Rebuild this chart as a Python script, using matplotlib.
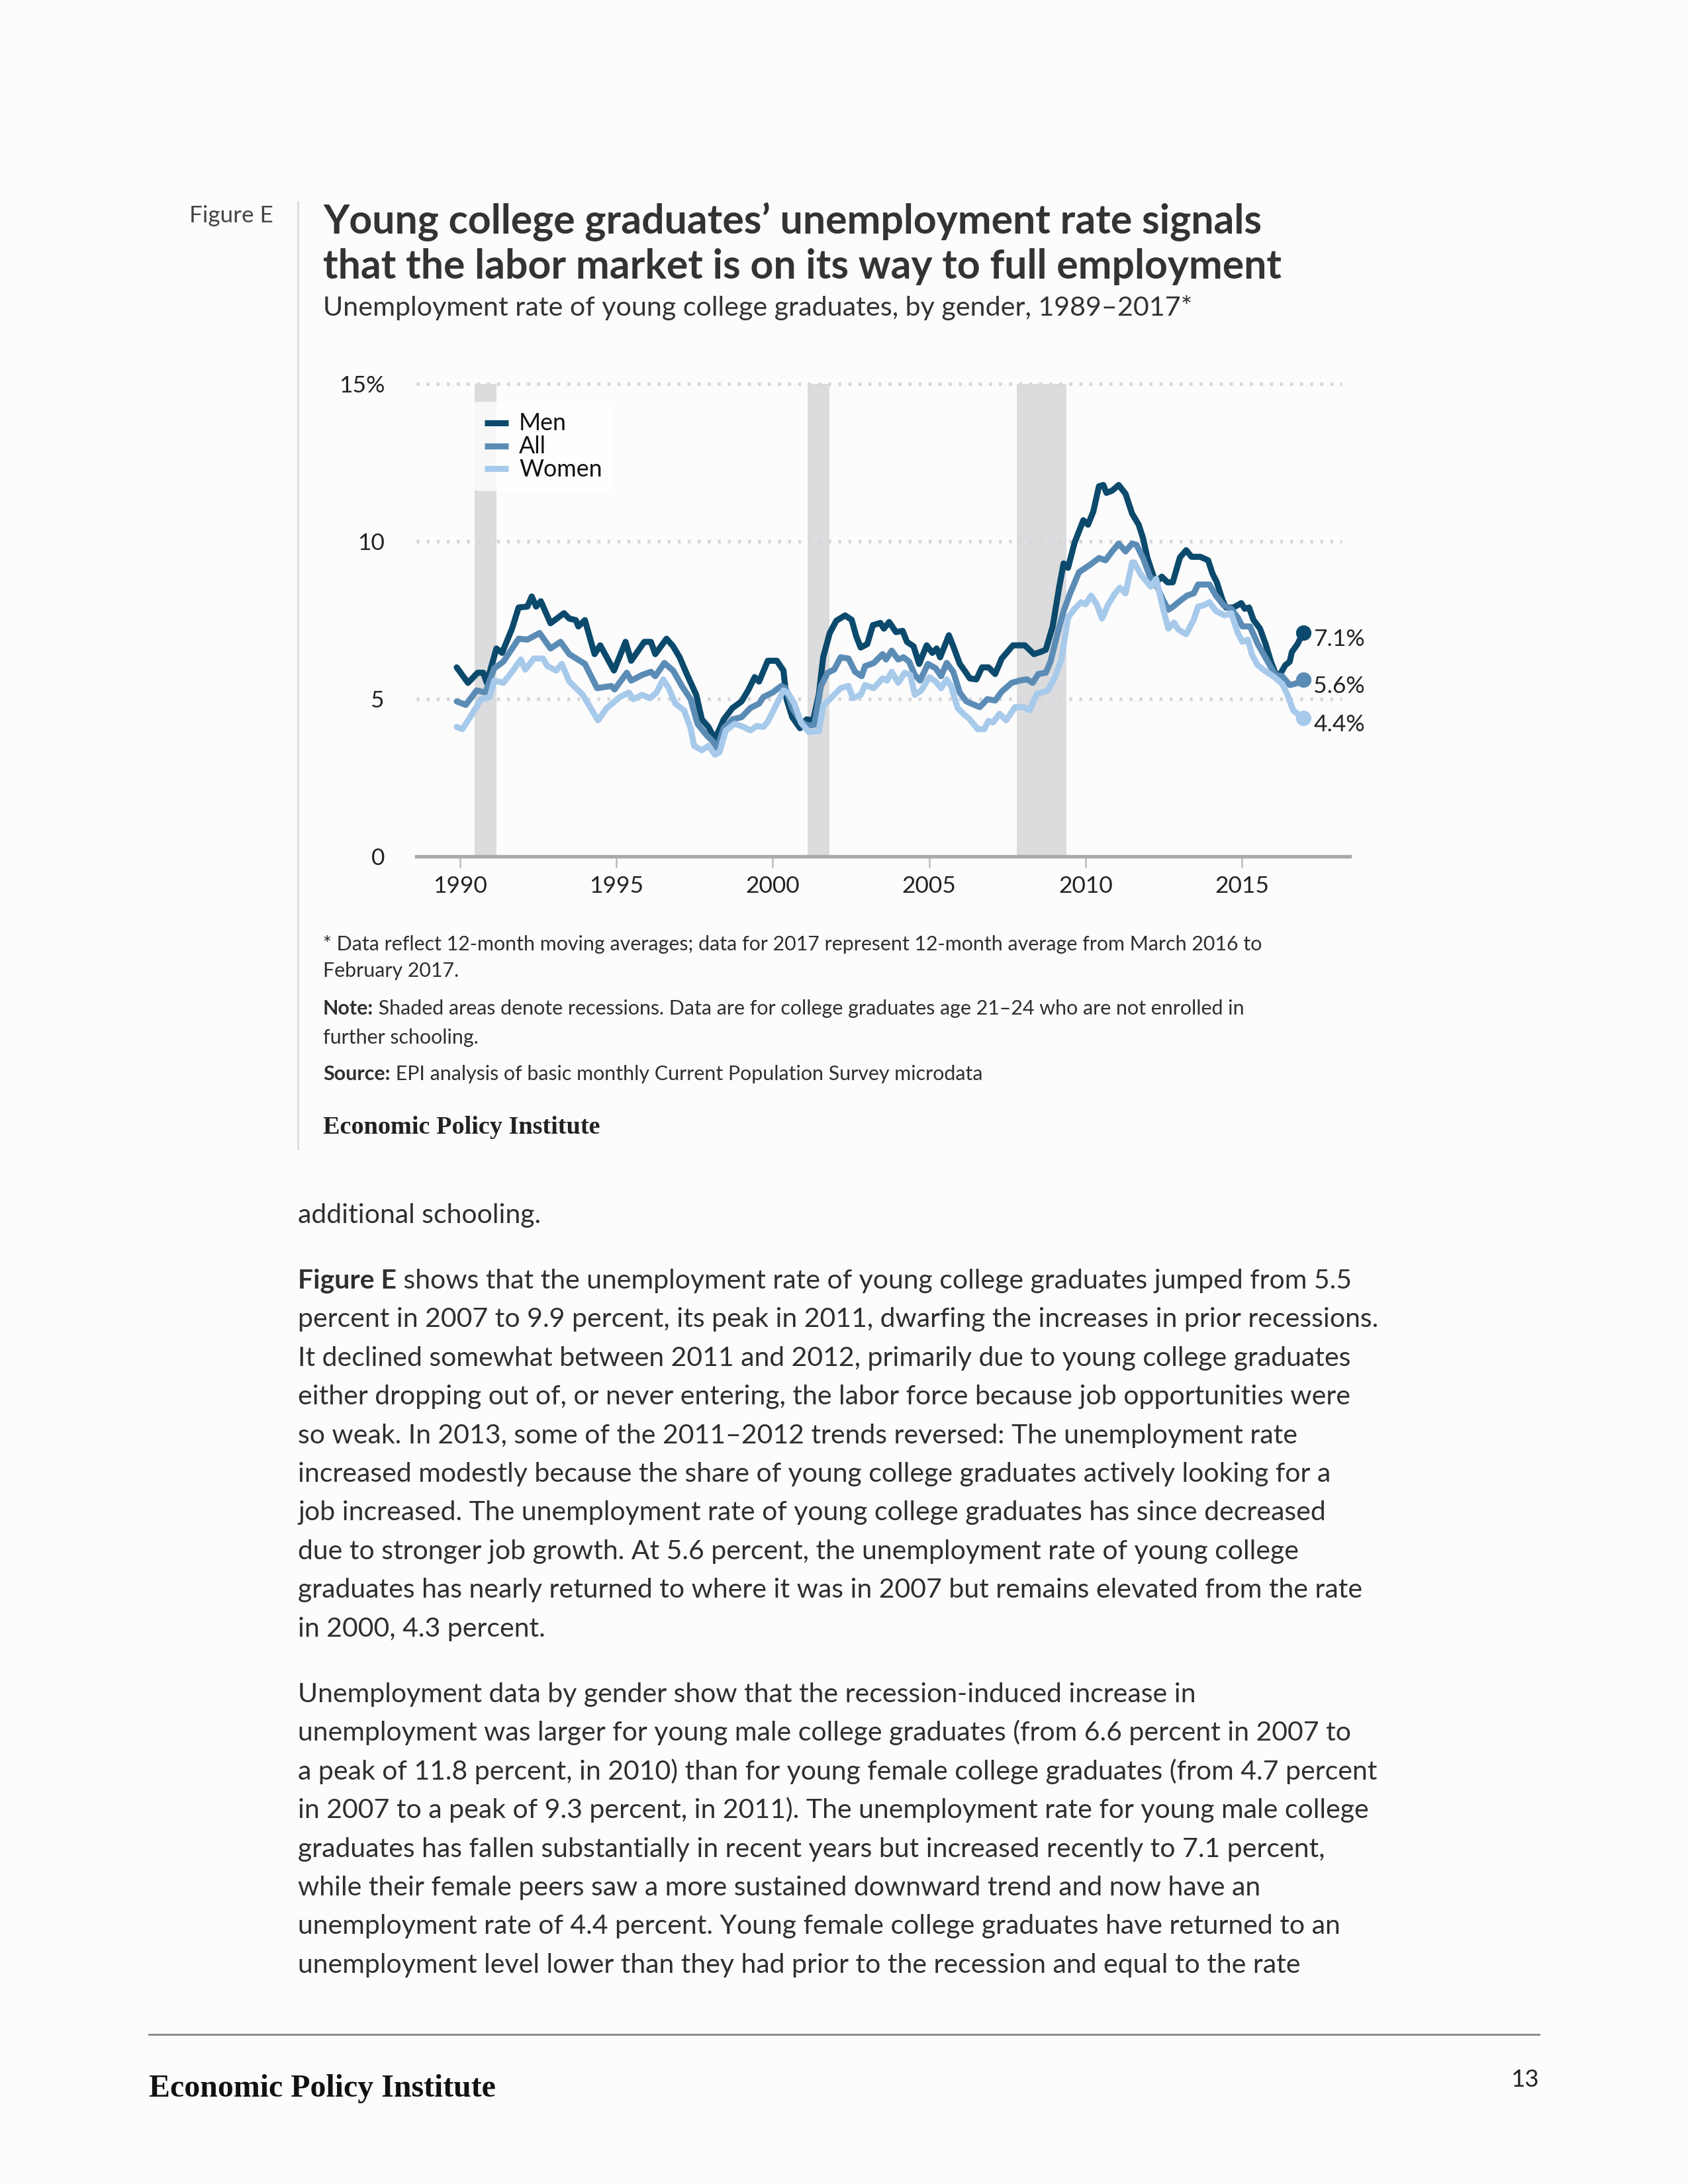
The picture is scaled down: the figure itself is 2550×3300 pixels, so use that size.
import matplotlib.pyplot as plt

# page size in pixels (8.5 x 11 in at 300 dpi)
W, H = 2550, 3300
DPI = 300

# ---- data ----
men_year = [1989.89, 1990.25, 1990.56, 1990.74, 1990.85, 1991.16, 1991.34, 1991.66, 1991.87, 1992.15,
            1992.29, 1992.43, 1992.58, 1992.89, 1993.32, 1993.49, 1993.70, 1993.78, 1993.99, 1994.30,
            1994.48, 1994.92, 1995.29, 1995.47, 1995.89, 1996.10, 1996.24, 1996.60, 1996.81, 1997.02,
            1997.23, 1997.55, 1997.73, 1997.94, 1998.15, 1998.43, 1998.71, 1999.00, 1999.21, 1999.42,
            1999.56, 1999.84, 2000.13, 2000.34, 2000.44, 2000.62, 2000.87, 2001.08, 2001.29, 2001.47,
            2001.61, 2001.82, 2002.03, 2002.31, 2002.52, 2002.67, 2002.81, 2003.02, 2003.20, 2003.44,
            2003.55, 2003.72, 2003.94, 2004.15, 2004.29, 2004.50, 2004.68, 2004.92, 2005.10, 2005.24,
            2005.35, 2005.63, 2005.77, 2005.98, 2006.16, 2006.30, 2006.51, 2006.69, 2006.90, 2007.11,
            2007.32, 2007.68, 2008.06, 2008.35, 2008.56, 2008.73, 2008.95, 2009.16, 2009.30, 2009.44,
            2009.65, 2009.93, 2010.08, 2010.25, 2010.43, 2010.57, 2010.67, 2010.85, 2011.06, 2011.28,
            2011.49, 2011.70, 2011.84, 2011.98, 2012.19, 2012.26, 2012.44, 2012.62, 2012.79, 2013.02,
            2013.22, 2013.39, 2013.67, 2013.92, 2014.06, 2014.20, 2014.38, 2014.49, 2014.73, 2014.98,
            2015.09, 2015.23, 2015.37, 2015.58, 2015.76, 2015.93, 2016.11, 2016.21, 2016.39, 2016.53,
            2016.60, 2016.78, 2016.96]
men_rate = [6.00, 5.51, 5.83, 5.83, 5.51, 6.60, 6.46, 7.23, 7.90, 7.93,
            8.25, 7.93, 8.10, 7.40, 7.72, 7.55, 7.50, 7.30, 7.50, 6.42,
            6.70, 5.90, 6.81, 6.21, 6.81, 6.81, 6.42, 6.91, 6.67, 6.32,
            5.83, 5.13, 4.35, 4.11, 3.72, 4.35, 4.71, 4.92, 5.27, 5.69,
            5.55, 6.21, 6.21, 5.90, 4.99, 4.42, 4.07, 4.35, 4.32, 5.13,
            6.32, 7.09, 7.48, 7.65, 7.51, 6.98, 6.63, 6.74, 7.34, 7.41,
            7.23, 7.44, 7.12, 7.16, 6.81, 6.67, 6.11, 6.70, 6.46, 6.60,
            6.32, 7.02, 6.67, 6.11, 5.86, 5.65, 5.62, 6.00, 6.00, 5.79,
            6.28, 6.70, 6.70, 6.42, 6.49, 6.56, 7.30, 8.56, 9.30, 9.16,
            9.96, 10.67, 10.53, 10.95, 11.75, 11.79, 11.54, 11.61, 11.79, 11.51,
            10.88, 10.53, 10.10, 9.47, 8.84, 8.70, 8.88, 8.70, 8.70, 9.49,
            9.72, 9.51, 9.51, 9.40, 8.98, 8.70, 8.14, 7.90, 7.90, 8.04,
            7.86, 7.90, 7.51, 7.23, 6.74, 6.18, 5.72, 5.76, 6.07, 6.18,
            6.49, 6.74, 7.10]

all_year = [1989.89, 1990.18, 1990.53, 1990.81, 1991.09, 1991.38, 1991.87, 1992.15, 1992.54, 1992.89,
            1993.21, 1993.49, 1993.99, 1994.38, 1994.83, 1994.94, 1995.33, 1995.47, 1995.82, 1996.10,
            1996.24, 1996.53, 1996.81, 1997.09, 1997.37, 1997.59, 1997.87, 1998.08, 1998.22, 1998.43,
            1998.71, 1999.00, 1999.28, 1999.56, 1999.70, 1999.99, 2000.27, 2000.41, 2000.62, 2000.90,
            2001.11, 2001.33, 2001.54, 2001.75, 2001.96, 2002.17, 2002.42, 2002.63, 2002.84, 2002.95,
            2003.23, 2003.51, 2003.62, 2003.80, 2004.01, 2004.18, 2004.36, 2004.54, 2004.71, 2004.96,
            2005.21, 2005.38, 2005.56, 2005.77, 2005.98, 2006.19, 2006.44, 2006.62, 2006.86, 2007.11,
            2007.32, 2007.64, 2007.89, 2008.13, 2008.31, 2008.49, 2008.73, 2008.88, 2009.09, 2009.30,
            2009.51, 2009.79, 2010.15, 2010.43, 2010.64, 2010.85, 2011.06, 2011.28, 2011.49, 2011.63,
            2011.84, 2012.05, 2012.26, 2012.48, 2012.65, 2012.83, 2012.97, 2013.25, 2013.46, 2013.60,
            2013.96, 2014.17, 2014.42, 2014.66, 2014.87, 2015.02, 2015.26, 2015.51, 2015.79, 2016.07,
            2016.29, 2016.53, 2016.71, 2016.96]
all_rate = [4.92, 4.81, 5.27, 5.20, 5.97, 6.18, 6.91, 6.88, 7.09, 6.60,
            6.81, 6.42, 6.11, 5.34, 5.41, 5.30, 5.83, 5.58, 5.76, 5.86,
            5.72, 6.14, 5.90, 5.41, 4.99, 4.21, 3.86, 3.65, 3.44, 4.07,
            4.35, 4.42, 4.71, 4.85, 5.06, 5.20, 5.41, 5.34, 4.71, 4.28,
            4.15, 4.18, 5.41, 5.83, 5.93, 6.32, 6.28, 5.86, 5.72, 6.04,
            6.14, 6.42, 6.25, 6.53, 6.25, 6.32, 6.18, 5.76, 5.58, 6.11,
            5.97, 5.72, 6.14, 5.86, 5.20, 4.92, 4.81, 4.74, 4.99, 4.95,
            5.23, 5.51, 5.58, 5.62, 5.51, 5.79, 5.83, 6.18, 7.02, 7.79,
            8.35, 9.02, 9.26, 9.47, 9.40, 9.68, 9.93, 9.68, 9.93, 9.89,
            9.47, 8.91, 8.63, 8.14, 7.83, 7.95, 8.07, 8.28, 8.35, 8.63,
            8.63, 8.28, 7.97, 7.86, 7.58, 7.30, 7.30, 6.74, 6.25, 5.76,
            5.72, 5.44, 5.48, 5.60]

women_year = [1989.89, 1990.07, 1990.32, 1990.67, 1990.95, 1991.09, 1991.38, 1991.66, 1991.94, 1992.08,
              1992.36, 1992.65, 1992.79, 1993.07, 1993.25, 1993.49, 1993.92, 1994.41, 1994.69, 1995.11,
              1995.40, 1995.54, 1995.82, 1996.07, 1996.28, 1996.49, 1996.67, 1996.88, 1997.16, 1997.37,
              1997.48, 1997.73, 1997.94, 1998.15, 1998.29, 1998.50, 1998.78, 1999.07, 1999.28, 1999.49,
              1999.70, 1999.84, 2000.06, 2000.34, 2000.48, 2000.69, 2000.90, 2001.15, 2001.47, 2001.61,
              2001.89, 2002.17, 2002.42, 2002.56, 2002.81, 2002.95, 2003.23, 2003.51, 2003.65, 2003.80,
              2004.01, 2004.22, 2004.40, 2004.54, 2004.75, 2005.00, 2005.21, 2005.38, 2005.56, 2005.70,
              2005.91, 2006.12, 2006.30, 2006.55, 2006.76, 2006.90, 2007.04, 2007.25, 2007.46, 2007.75,
              2008.03, 2008.21, 2008.45, 2008.80, 2009.02, 2009.23, 2009.44, 2009.65, 2009.86, 2010.00,
              2010.18, 2010.36, 2010.53, 2010.71, 2010.92, 2011.10, 2011.28, 2011.49, 2011.56, 2011.77,
              2011.91, 2012.09, 2012.26, 2012.48, 2012.65, 2012.83, 2012.97, 2013.22, 2013.46, 2013.60,
              2013.78, 2013.96, 2014.17, 2014.45, 2014.66, 2014.87, 2015.02, 2015.19, 2015.33, 2015.51,
              2015.72, 2016.00, 2016.29, 2016.46, 2016.64, 2016.78, 2016.96]
women_rate = [4.11, 4.04, 4.42, 4.99, 5.06, 5.58, 5.51, 5.86, 6.25, 5.93,
              6.28, 6.28, 6.04, 5.90, 6.11, 5.55, 5.13, 4.32, 4.71, 5.06,
              5.20, 4.99, 5.13, 5.02, 5.20, 5.62, 5.34, 4.85, 4.64, 4.07,
              3.51, 3.37, 3.51, 3.23, 3.30, 4.00, 4.21, 4.11, 4.00, 4.14,
              4.11, 4.28, 4.71, 5.27, 5.20, 4.85, 4.25, 3.95, 3.97, 4.78,
              5.06, 5.34, 5.41, 5.02, 5.13, 5.44, 5.34, 5.65, 5.58, 5.86,
              5.51, 5.83, 5.76, 5.13, 5.27, 5.69, 5.55, 5.34, 5.62, 5.41,
              4.71, 4.50, 4.35, 4.04, 4.04, 4.30, 4.25, 4.53, 4.32, 4.74,
              4.74, 4.64, 5.16, 5.27, 5.69, 6.25, 7.58, 7.86, 8.07, 8.00,
              8.28, 8.00, 7.55, 7.97, 8.32, 8.53, 8.35, 9.33, 9.33, 8.95,
              8.77, 8.56, 8.81, 7.86, 7.23, 7.42, 7.20, 7.05, 7.51, 7.93,
              7.97, 8.07, 7.79, 7.65, 7.72, 7.09, 6.81, 6.88, 6.39, 6.07,
              5.90, 5.72, 5.48, 5.13, 4.64, 4.53, 4.40]

end_labels = ['7.1%', '5.6%', '4.4%']

# recessions (shaded)
rec_start = [1990.46, 2001.12, 2007.80]
rec_end = [1991.16, 2001.82, 2009.38]

y_ticks = [0, 5, 10, 15]
y_ticklabels = ['0', '5', '10', '15%']
x_ticks = [1990, 1995, 2000, 2005, 2010, 2015]

# colors
c_men = '#0b4a6c'
c_all = '#5b8cb5'
c_women = '#a7caeb'
bg = '#fdfcfd'
txt = '#2f2f2f'

plt.rcParams['font.family'] = ['Lato', 'DejaVu Sans']

fig = plt.figure(figsize=(W / DPI, H / DPI), dpi=DPI, facecolor=bg)


def fx(x):
    return x / W


def fy(y):
    return 1 - y / H


# ---- axes (pixel box from the reference) ----
ax_l, ax_r, ax_t, ax_b = 629, 2039, 580, 1294
ax = fig.add_axes([fx(ax_l), fy(ax_b), (ax_r - ax_l) / W, (ax_b - ax_t) / H])
ax.set_facecolor(bg)
ax.set_xlim(1988.6, 2018.45)
ax.set_ylim(0, 15)

for s, e in zip(rec_start, rec_end):
    ax.axvspan(s, e, color='#dcdbdd', lw=0, zorder=1)

# dotted gridlines
for v in [5, 10, 15]:
    ax.axhline(v, xmin=0, xmax=0.9915, color='#d6d6da', lw=1.3,
               linestyle=(0, (0.8, 2.0)), zorder=2, clip_on=False)

for sp in ['top', 'right', 'left']:
    ax.spines[sp].set_visible(False)
ax.spines['bottom'].set_color('#aaaaaa')
ax.spines['bottom'].set_linewidth(1.3)

ax.set_yticks(y_ticks)
ax.set_yticklabels(y_ticklabels)
ax.set_xticks(x_ticks)
ax.tick_params(axis='y', length=0, pad=11.5, labelsize=8.5, labelcolor='#222222')
ax.tick_params(axis='x', length=4, width=0.6, color='#bbbbbb', pad=3,
               labelsize=8.5, labelcolor='#222222')

# series lines
series = [(men_year, men_rate, c_men, 'Men'),
          (all_year, all_rate, c_all, 'All'),
          (women_year, women_rate, c_women, 'Women')]
for (xs, ys, col, name), lab in zip(series, end_labels):
    ax.plot(xs, ys, color=col, lw=2.2, solid_joinstyle='round',
            solid_capstyle='round', label=name, zorder=3)
    ax.plot(xs[-1], ys[-1], 'o', ms=4.6, color=col, zorder=4)
    ax.annotate(lab, (xs[-1], ys[-1]), xytext=(3.8, -2.4), textcoords='offset points',
                va='center', ha='left', fontsize=8.5, color='#222222',
                annotation_clip=False)

leg = ax.legend(loc='upper left', bbox_to_anchor=(0.0617, 0.962), borderaxespad=0,
                frameon=True, fontsize=8.6, handlelength=1.0, handleheight=0.5,
                handletextpad=0.45, labelspacing=0.05, borderpad=0.45)
leg.get_frame().set_facecolor('white')
leg.get_frame().set_alpha(0.8)
leg.get_frame().set_edgecolor('none')
for h in leg.get_lines():
    h.set_linewidth(2.2)
    h.set_solid_capstyle('butt')
for t in leg.get_texts():
    t.set_color('#111111')

# ---- figure texts ----
# vertical rule next to the figure block
fig.add_artist(plt.Line2D([fx(450), fx(450)], [fy(305), fy(1736)],
                          color='#dddddd', lw=0.7))

fig.text(fx(286), fy(336), 'Figure E', fontsize=8.4, color='#444444', va='baseline')
fig.text(fx(488), fy(353), 'Young college graduates’ unemployment rate signals',
         fontsize=14.6, fontweight='bold', color='#333333', va='baseline')
fig.text(fx(488), fy(421), 'that the labor market is on its way to full employment',
         fontsize=14.6, fontweight='bold', color='#333333', va='baseline')
fig.text(fx(488), fy(477), 'Unemployment rate of young college graduates, by gender, 1989–2017*',
         fontsize=9.9, color='#333333', va='baseline')

renderer = fig.canvas.get_renderer()


def bold_lead(x, y, bold, rest, size, color=txt):
    # bold words followed by regular text on the same line
    t = fig.text(fx(x), fy(y), bold, fontsize=size, fontweight='bold',
                 color=color, va='baseline')
    w = t.get_window_extent(renderer=renderer).width
    fig.text(fx(x + w), fy(y), rest, fontsize=size, color=color, va='baseline')


note_size = 7.3
fig.text(fx(488), fy(1436), '* Data reflect 12-month moving averages; data for 2017 represent '
         '12-month average from March 2016 to', fontsize=note_size, color=txt, va='baseline')
fig.text(fx(488), fy(1476), 'February 2017.', fontsize=note_size, color=txt, va='baseline')
bold_lead(488, 1533, 'Note:', ' Shaded areas denote recessions. Data are for college graduates '
          'age 21–24 who are not enrolled in', note_size)
fig.text(fx(488), fy(1577), 'further schooling.', fontsize=note_size, color=txt, va='baseline')
bold_lead(488, 1632, 'Source:', ' EPI analysis of basic monthly Current Population Survey microdata',
          note_size)
fig.text(fx(488), fy(1713), 'Economic Policy Institute', fontsize=9.2, fontweight='bold',
         family='Liberation Serif', color='#222222', va='baseline')

# ---- body text ----
body_size = 9.85
fig.text(fx(450), fy(1848), 'additional schooling.', fontsize=body_size, color=txt, va='baseline')

para1 = [
    "percent in 2007 to 9.9 percent, its peak in 2011, dwarfing the increases in prior recessions.",
    "It declined somewhat between 2011 and 2012, primarily due to young college graduates",
    "either dropping out of, or never entering, the labor force because job opportunities were",
    "so weak. In 2013, some of the 2011–2012 trends reversed: The unemployment rate",
    "increased modestly because the share of young college graduates actively looking for a",
    "job increased. The unemployment rate of young college graduates has since decreased",
    "due to stronger job growth. At 5.6 percent, the unemployment rate of young college",
    "graduates has nearly returned to where it was in 2007 but remains elevated from the rate",
    "in 2000, 4.3 percent.",
]
para2 = [
    "Unemployment data by gender show that the recession-induced increase in",
    "unemployment was larger for young male college graduates (from 6.6 percent in 2007 to",
    "a peak of 11.8 percent, in 2010) than for young female college graduates (from 4.7 percent",
    "in 2007 to a peak of 9.3 percent, in 2011). The unemployment rate for young male college",
    "graduates has fallen substantially in recent years but increased recently to 7.1 percent,",
    "while their female peers saw a more sustained downward trend and now have an",
    "unemployment rate of 4.4 percent. Young female college graduates have returned to an",
    "unemployment level lower than they had prior to the recession and equal to the rate",
]
lh = 58.4
bold_lead(450, 1947, 'Figure E', ' shows that the unemployment rate of young college graduates '
          'jumped from 5.5', body_size)
for i, line in enumerate(para1):
    fig.text(fx(450), fy(1947 + lh * (i + 1)), line, fontsize=body_size, color=txt, va='baseline')
for i, line in enumerate(para2):
    fig.text(fx(450), fy(2572 + lh * i), line, fontsize=body_size, color=txt, va='baseline')

# ---- footer ----
fig.add_artist(plt.Line2D([fx(225), fx(2325)], [fy(3074), fy(3074)], color='#8c8c8c', lw=0.7))
fig.text(fx(225), fy(3168), 'Economic Policy Institute', fontsize=11.5, fontweight='bold',
         family='Liberation Serif', color='#111111', va='baseline')
fig.text(fx(2325), fy(3153), '13', fontsize=8.8, color='#222222', va='baseline', ha='right')

fig.savefig('out.png', dpi=DPI, facecolor=bg)
